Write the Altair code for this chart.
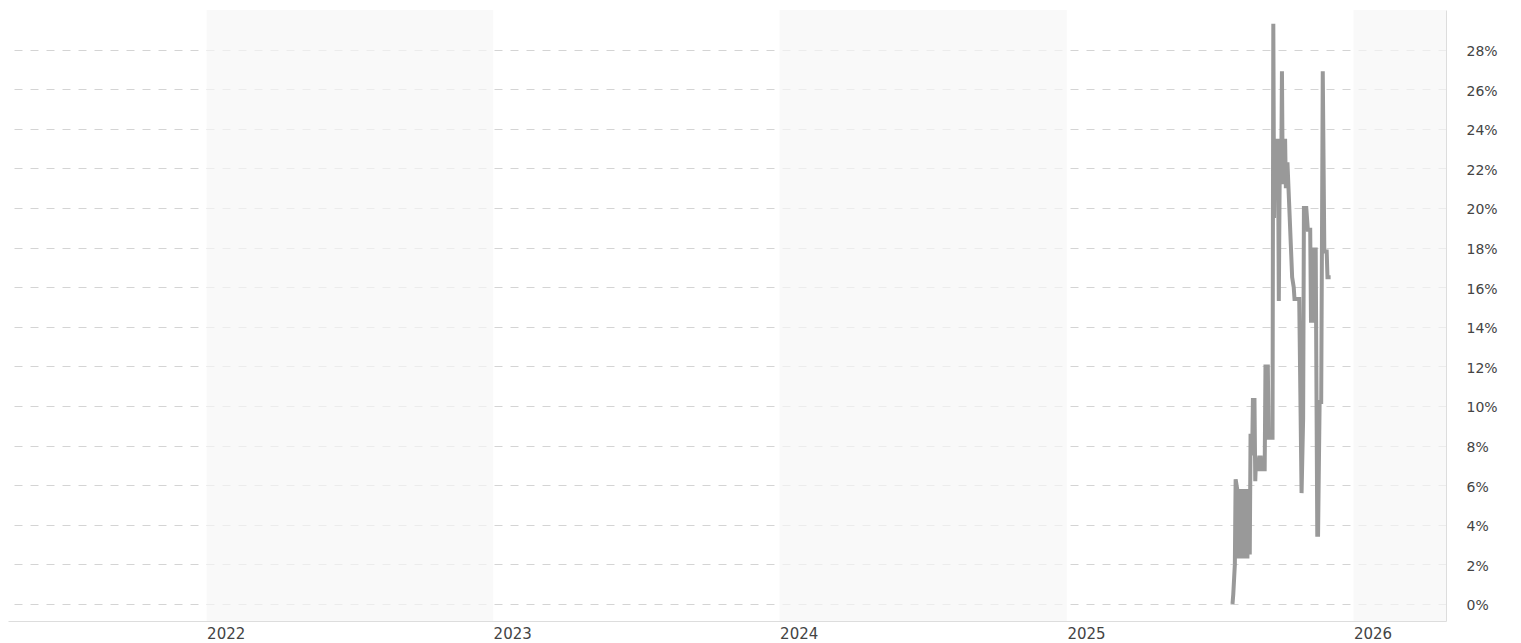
import altair as alt
import pandas as pd

# ---- data (values in percent) ----
dates = [
    "2025-07-31", "2025-08-01", "2025-08-03", "2025-08-04", "2025-08-06", "2025-08-07",
    "2025-08-09", "2025-08-11", "2025-08-12", "2025-08-13", "2025-08-15", "2025-08-16",
    "2025-08-17", "2025-08-19", "2025-08-20", "2025-08-22", "2025-08-23", "2025-08-25",
    "2025-08-26", "2025-08-28", "2025-08-29", "2025-08-30", "2025-08-31", "2025-09-02",
    "2025-09-03", "2025-09-05", "2025-09-06", "2025-09-10", "2025-09-11", "2025-09-14",
    "2025-09-15", "2025-09-20", "2025-09-21", "2025-09-22", "2025-09-23", "2025-09-24",
    "2025-09-25", "2025-09-26", "2025-09-27", "2025-09-28", "2025-09-29", "2025-09-30",
    "2025-10-01", "2025-10-02", "2025-10-03", "2025-10-04", "2025-10-05", "2025-10-06",
    "2025-10-07", "2025-10-09", "2025-10-15", "2025-10-17", "2025-10-18", "2025-10-24",
    "2025-10-27", "2025-10-29", "2025-10-30", "2025-11-02", "2025-11-04", "2025-11-07",
    "2025-11-08", "2025-11-10", "2025-11-11", "2025-11-14", "2025-11-16", "2025-11-17",
    "2025-11-19", "2025-11-21", "2025-11-23", "2025-11-25", "2025-11-28", "2025-11-29",
    "2025-12-03",
]
values_pct = [
    0.0, 0.5, 2.0, 6.3, 5.8, 2.3,
    5.8, 2.3, 5.8, 2.5, 5.8, 2.3,
    5.8, 2.3, 5.8, 2.5, 8.6, 7.5,
    10.3, 10.3, 6.2, 7.4, 6.8, 6.8,
    7.4, 7.4, 6.8, 6.8, 12.0, 12.0,
    8.4, 8.4, 29.3, 19.5, 23.5, 21.0,
    23.5, 21.0, 23.0, 15.3, 21.0, 23.5,
    21.2, 26.9, 21.2, 23.5, 22.3, 23.5,
    21.0, 22.3, 16.5, 16.0, 15.4, 15.4,
    5.6, 9.4, 20.0, 20.0, 18.9, 18.9,
    14.3, 14.3, 17.9, 17.9, 3.5, 3.5,
    10.2, 10.2, 26.9, 17.8, 17.8, 16.5,
    16.5,
]

band_starts = ["2022-01-01", "2024-01-01", "2026-01-01"]
band_ends = ["2023-01-01", "2025-01-01", "2027-01-01"]

tick_years = [2022, 2023, 2024, 2025, 2026]
y_ticks_pct = [0, 2, 4, 6, 8, 10, 12, 14, 16, 18, 20, 22, 24, 26, 28]

df = pd.DataFrame({"date": dates, "value": [v / 100 for v in values_pct]})
bands = pd.DataFrame({"start": band_starts, "end": band_ends})

x_scale = alt.Scale(
    type="utc",
    domain=[alt.DateTime(year=2021, month=4, date=23, utc=True),
            alt.DateTime(year=2026, month=4, date=29, utc=True)],
)
y_scale = alt.Scale(domain=[-0.0086, 0.30], nice=False, zero=False)

x_axis = alt.Axis(
    title=None,
    values=[alt.DateTime(year=y, month=1, date=1, utc=True) for y in tick_years],
    format="%Y",
    labelAlign="left",
    labelFlush=False,
    labelPadding=5,
    labelFont="DejaVu Sans",
    labelFontSize=15,
    labelColor="#444444",
    ticks=False,
    grid=False,
    domainColor="#dddddd",
    domainWidth=1,
)
y_axis = alt.Axis(
    title=None,
    orient="right",
    values=[v / 100 for v in y_ticks_pct],
    format=".0%",
    labelPadding=20,
    labelOffset=2,
    labelFont="DejaVu Sans",
    labelFontSize=14,
    labelColor="#444444",
    ticks=False,
    grid=True,
    gridColor="#d4d4d4",
    gridDash=[8, 8],
    gridWidth=1,
    domainColor="#dddddd",
    domainWidth=1,
)

band_layer = alt.Chart(bands).mark_rect(
    fill="#f6f6f6", opacity=0.7, clip=True
).encode(
    x=alt.X("start:T", scale=x_scale, axis=x_axis),
    x2="end:T",
)

line_layer = alt.Chart(df).mark_line(
    color="#999999", strokeWidth=4, strokeJoin="miter", strokeMiterLimit=2
).encode(
    x=alt.X("date:T", scale=x_scale, axis=x_axis),
    y=alt.Y("value:Q", scale=y_scale, axis=y_axis),
)

chart = alt.layer(band_layer, line_layer).properties(
    width=1438,
    height=611,
    padding={"left": 0, "top": 2, "right": 5, "bottom": 0},
    background="white",
).configure_view(strokeWidth=0)

chart.save("out.html", embed_options={"renderer": "svg", "actions": False})
